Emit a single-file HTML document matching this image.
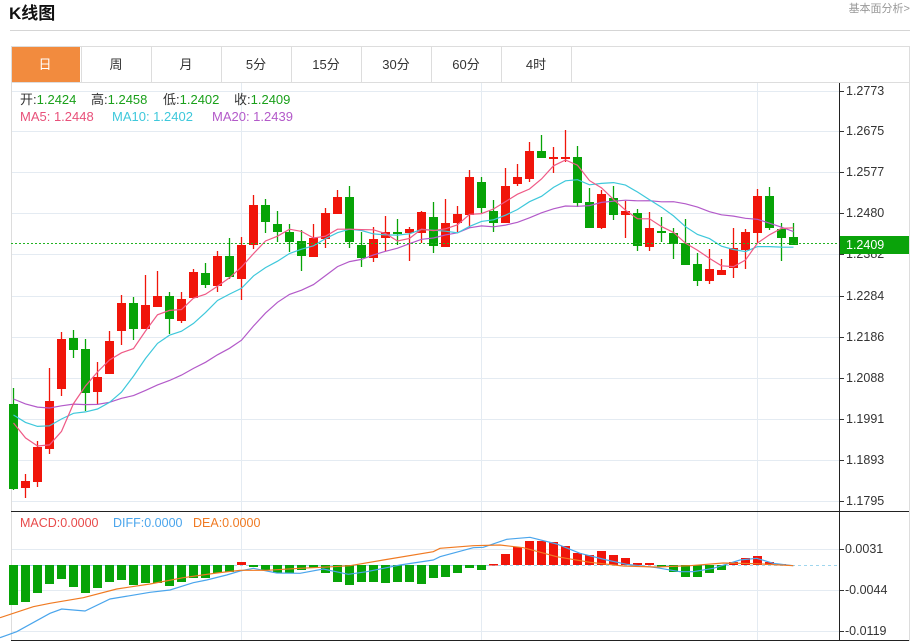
<!DOCTYPE html>
<html><head><meta charset="utf-8"><style>
body{margin:0;background:#fff;width:920px;height:642px;overflow:hidden;font-family:"Liberation Sans","Noto Sans CJK SC",sans-serif}
svg{position:absolute;left:0;top:0}
</style></head><body>
<svg id="s" width="920" height="642" xmlns="http://www.w3.org/2000/svg" font-family="Liberation Sans, Noto Sans CJK SC, sans-serif">
<text x="9" y="19" font-size="17" font-weight="bold" fill="#111">K线图</text>
<text x="910" y="12" font-size="11" fill="#999" text-anchor="end">基本面分析&gt;</text>
<line x1="10" y1="30.5" x2="910" y2="30.5" stroke="#d5d5d5"/>
<rect x="11.5" y="46.5" width="898" height="36" fill="#fff" stroke="#ddd"/>
<rect x="12" y="47" width="68" height="35" fill="#f28b3e"/>
<g font-size="13" fill="#333" text-anchor="middle">
<text x="45" y="69" fill="#fff">日</text><text x="116" y="69">周</text><text x="186" y="69">月</text><text x="256" y="69">5分</text><text x="326" y="69">15分</text><text x="396" y="69">30分</text><text x="466" y="69">60分</text><text x="536" y="69">4时</text>
</g>
<g stroke="#ddd"><line x1="81.5" y1="47" x2="81.5" y2="82"/><line x1="151.5" y1="47" x2="151.5" y2="82"/><line x1="221.5" y1="47" x2="221.5" y2="82"/><line x1="291.5" y1="47" x2="291.5" y2="82"/><line x1="361.5" y1="47" x2="361.5" y2="82"/><line x1="431.5" y1="47" x2="431.5" y2="82"/><line x1="501.5" y1="47" x2="501.5" y2="82"/><line x1="571.5" y1="47" x2="571.5" y2="82"/></g>
<g id="grid"></g>
<line x1="11.5" y1="83" x2="11.5" y2="641" stroke="#ddd"/>
<line x1="909.5" y1="83" x2="909.5" y2="641" stroke="#ddd"/>
<line x1="839.5" y1="83" x2="839.5" y2="641" stroke="#222"/>
<line x1="11" y1="511.5" x2="909" y2="511.5" stroke="#222"/>
<line x1="11" y1="640.5" x2="909" y2="640.5" stroke="#222"/>
<g id="c"></g>
<line x1="11" y1="243.5" x2="839" y2="243.5" stroke="#22b322" stroke-dasharray="2,2"/>
<rect x="840" y="236" width="69" height="18" fill="#0aa30a"/>
<text x="846" y="249" font-size="12.5" fill="#fff">1.2409</text>
<g font-size="13">
<text x="20" y="104" fill="#333">开:<tspan fill="#1aa01a">1.2424</tspan></text>
<text x="91" y="104" fill="#333">高:<tspan fill="#1aa01a">1.2458</tspan></text>
<text x="163" y="104" fill="#333">低:<tspan fill="#1aa01a">1.2402</tspan></text>
<text x="234" y="104" fill="#333">收:<tspan fill="#1aa01a">1.2409</tspan></text>
<text x="20" y="121" fill="#e8517a">MA5: 1.2448</text>
<text x="112" y="121" fill="#3ec8db">MA10: 1.2402</text>
<text x="212" y="121" fill="#b35ac9">MA20: 1.2439</text>
</g>
<g font-size="12.5">
<text x="20" y="527" fill="#e84a4a">MACD:0.0000</text>
<text x="113" y="527" fill="#4aa5ec">DIFF:0.0000</text>
<text x="193" y="527" fill="#f07a22">DEA:0.0000</text>
</g>
</svg>
<script>
var NS="http://www.w3.org/2000/svg",g=document.getElementById('grid'),c=document.getElementById('c');
function el(p,t,a){var e=document.createElementNS(NS,t);for(var k in a)e.setAttribute(k,a[k]);p.appendChild(e);return e;}
var ticks=[["1.2773",91],["1.2675",131],["1.2577",172],["1.2480",213],["1.2382",254],["1.2284",296],["1.2186",337],["1.2088",378],["1.1991",419],["1.1893",460],["1.1795",501]];
ticks.forEach(function(t){el(g,'line',{x1:12,x2:839,y1:t[1]+.5,y2:t[1]+.5,stroke:'#e4ebf2'});el(g,'line',{x1:839,x2:844,y1:t[1]+.5,y2:t[1]+.5,stroke:'#333'});var tx=el(g,'text',{x:846,y:t[1]+4,'font-size':12.5,fill:'#333'});tx.textContent=t[0];});
[[549,"0.0031"],[590,"-0.0044"],[631,"-0.0119"]].forEach(function(t){el(g,'line',{x1:12,x2:839,y1:t[0]+.5,y2:t[0]+.5,stroke:'#e4ebf2'});el(g,'line',{x1:839,x2:844,y1:t[0]+.5,y2:t[0]+.5,stroke:'#333'});var tx=el(g,'text',{x:845,y:t[0]+4,'font-size':12.5,fill:'#333'});tx.textContent=t[1];});
[241,481,757].forEach(function(x){el(g,'line',{x1:x+.5,x2:x+.5,y1:83,y2:641,stroke:'#e4ebf2'});});
var K=[['g',404,489,388,490],['r',481,488,474,498],['r',447,482,441,487],['r',401,449,368,454],['r',339,389,332,396],['g',338,350,330,358],['g',349,393,339,411],['r',377,392,362,404],['r',341,374,331,374],['r',303,331,295,345],['g',303,329,297,340],['r',305,329,275,329],['r',296,307,271,307],['g',296,319,292,334],['r',299,321,292,323],['r',272,298,269,298],['g',273,285,263,288],['r',256,286,251,292],['g',256,277,238,279],['r',245,279,237,300],['r',205,245,195,249],['g',205,222,199,233],['g',224,232,211,242],['g',232,242,224,252],['g',241,256,230,271],['r',238,257,224,257],['r',213,239,208,248],['r',197,214,190,214],['g',197,242,186,248],['g',245,258,232,267],['r',239,258,227,262],['r',232,238,216,251],['g',232,234,219,245],['r',229,233,227,261],['r',212,233,211,243],['g',217,246,202,253],['r',223,247,199,247],['r',214,223,206,232],['r',177,215,170,228],['g',182,208,177,213],['g',211,223,200,232],['r',186,223,168,223],['r',177,184,164,186],['r',151,179,142,182],['g',151,158,135,158],['r',157,159,147,173],['r',157,159,130,162],['g',157,203,146,207],['g',202,228,188,228],['r',194,228,190,229],['g',198,215,186,220],['r',211,215,201,238],['g',213,246,209,251],['r',228,247,212,251],['g',231,233,217,242],['g',233,244,228,259],['g',243,265,219,265],['g',264,281,253,286],['r',269,281,249,284],['r',270,275,259,275],['r',248,268,228,278],['r',232,250,229,269],['r',196,233,189,243],['g',196,228,187,230],['g',229,238,223,261],['g',237,245,223,245]];
var closes=[];
K.forEach(function(k,i){var x=13+12*i,col=k[0]=='r'?'#f0150a':'#07a307';
el(c,'line',{x1:x+.5,x2:x+.5,y1:k[3],y2:k[4],stroke:col,'stroke-width':1.3});
el(c,'rect',{x:x-4,y:k[1],width:9,height:Math.max(1.5,k[2]-k[1]),fill:col});
closes.push(k[0]=='r'?k[1]:k[2]);});
var pre=[];for(var i=0;i<10;i++)pre.push(383);for(i=0;i<5;i++)pre.push(407);for(i=0;i<4;i++)pre.push(406.5);
var all=pre.concat(closes);
function ma(n,col){var pts=[];for(var i=0;i<K.length;i++){var j=i+19,s=0;for(var m=0;m<n;m++)s+=all[j-m];pts.push((13+12*i+.5)+','+(s/n).toFixed(1));}
el(c,'polyline',{points:pts.join(' '),fill:'none',stroke:col,'stroke-width':1.2});}
ma(20,'#b35ac9');ma(10,'#3ec8db');ma(5,'#ef5a86');
var H=[605,602,593,584,579,587,593,588,582,580,585,583,583,586,582,578,578,573,572,562,567,570,573,573,570,568,573,582,585,582,582,583,582,582,584,578,577,573,568,570,564,554,547,541,541,542,546,553,555,551,555,558,563,563,567,572,577,577,573,570,562,558,556,562,564];
el(c,'line',{x1:12,x2:839,y1:565.5,y2:565.5,stroke:'#9fd6ee','stroke-dasharray':'3,3'});
H.forEach(function(v,i){var x=13+12*i,red=v<565;el(c,'rect',{x:x-4,y:Math.min(v,565),width:9,height:Math.max(1.5,Math.abs(v-565)),fill:red?'#f0150a':'#07a307'});});
function cv(a,b){var p=[];a.forEach(function(q){p.push((q[0]/3).toFixed(1)+','+(505+q[1]/3).toFixed(1));});b.forEach(function(q){p.push((440+q[0]/3).toFixed(1)+','+(505+q[1]/3).toFixed(1));});return p.join(' ');}
var dea4=[[0,338],[100,305],[150,295],[250,278],[350,252],[450,237],[550,218],[650,204],[720,196],[800,196],[900,190],[1000,185],[1050,182],[1150,165],[1300,140]];
var dea5=[[0,130],[100,122],[180,120],[250,128],[350,155],[450,172],[550,183],[650,186],[750,182],[850,174],[950,176],[1060,182]];
var dif4=[[0,398],[50,380],[150,325],[185,312],[255,318],[330,282],[390,272],[450,262],[510,255],[580,233],[620,225],[680,210],[720,198],[760,190],[830,204],[900,205],[970,192],[1045,208],[1100,200],[1200,180],[1300,165]];
var dif5=[[0,155],[100,128],[130,127],[200,103],[270,97],[350,117],[420,145],[500,165],[560,178],[650,188],[720,200],[760,200],[820,190],[900,165],[950,160],[1000,175],[1060,182]];
el(c,'polyline',{points:cv(dif4,dif5),fill:'none',stroke:'#4aa5ec','stroke-width':1.2});
el(c,'polyline',{points:cv(dea4,dea5),fill:'none',stroke:'#f07a22','stroke-width':1.2});
</script>
</body></html>
